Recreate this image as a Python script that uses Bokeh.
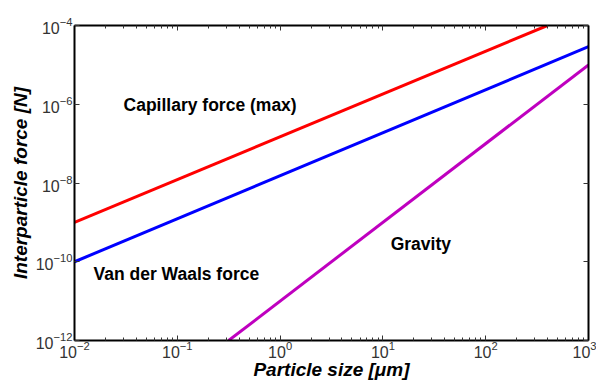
from bokeh.plotting import figure
from bokeh.models import FixedTicker, LogAxis, Label, Range1d, CustomJSTickFormatter
from bokeh.embed import file_html
from bokeh.resources import INLINE

# ---- data ----
size_capillary = [0.01, 398.0]
force_capillary = [1e-9, 1e-4]
size_vdw = [0.01, 1000.0]
force_vdw = [1e-10, 2.9e-5]
size_gravity = [0.316, 1000.0]
force_gravity = [1e-12, 1e-5]

x_major = [1e-2, 1e-1, 1e0, 1e1, 1e2, 1e3]
y_major = [1e-12, 1e-10, 1e-8, 1e-6, 1e-4]
x_minor = [m * 10.0 ** e for e in range(-2, 3) for m in range(2, 10)]

label_texts = ["Capillary force (max)", "Van der Waals force", "Gravity"]
label_x = [0.030, 0.0153, 11.9]
label_y = [9.3e-7, 4.8e-11, 2.8e-10]

FONT = "Liberation Sans"

p = figure(width=596, height=383, x_axis_type="log", y_axis_type="log",
           x_range=Range1d(1e-2, 1e3), y_range=Range1d(1e-12, 1e-4),
           output_backend="svg", toolbar_location=None,
           min_border_left=74, min_border_right=8, min_border_top=25, min_border_bottom=43)
p.grid.visible = False
p.outline_line_color = None
p.background_fill_color = "white"
p.border_fill_color = "white"

p.line(size_capillary, force_capillary, line_color="#ff0000", line_width=3)
p.line(size_vdw, force_vdw, line_color="#0000ff", line_width=3)
p.line(size_gravity, force_gravity, line_color="#bf00bf", line_width=3)

for t, x, y in zip(label_texts, label_x, label_y):
    p.add_layout(Label(x=x, y=y, text=t, text_font=FONT, text_font_style="bold",
                       text_font_size="17.5px", text_color="black",
                       text_align="left", text_baseline="middle"))


def style_axis(ax):
    ax.axis_line_color = "black"
    ax.axis_line_width = 2
    ax.major_tick_in = 5
    ax.major_tick_out = 0
    ax.minor_tick_in = 3
    ax.minor_tick_out = 0
    ax.major_tick_line_color = "#333333"
    ax.minor_tick_line_color = "#333333"
    ax.major_label_text_font = FONT
    ax.major_label_text_font_size = "16px"
    ax.major_label_text_color = "#333333"


xa = p.xaxis[0]
xa.ticker = FixedTicker(ticks=x_major, minor_ticks=x_minor)
style_axis(xa)
xa.major_label_standoff = 0
xa.axis_label = "Particle size [\u03bcm]"
xa.axis_label_text_font = FONT
xa.axis_label_text_font_style = "bold italic"
xa.axis_label_text_font_size = "19px"
xa.axis_label_text_color = "black"
xa.axis_label_standoff = -2

ya = p.yaxis[0]
ya.ticker = FixedTicker(ticks=y_major, minor_ticks=[])
style_axis(ya)
ya.major_label_standoff = 2
ya.axis_label = "Interparticle force [N]"
ya.axis_label_text_font = FONT
ya.axis_label_text_font_style = "bold italic"
ya.axis_label_text_font_size = "19px"
ya.axis_label_text_color = "black"
ya.axis_label_standoff = 2

blank = CustomJSTickFormatter(code="return ''")

top = LogAxis(ticker=FixedTicker(ticks=x_major, minor_ticks=x_minor), formatter=blank)
style_axis(top)
top.major_label_standoff = 0
p.add_layout(top, "above")

right = LogAxis(ticker=FixedTicker(ticks=y_major, minor_ticks=[]), formatter=blank)
style_axis(right)
right.major_label_standoff = 0
p.add_layout(right, "right")

open("out.html", "w").write(file_html(p, INLINE))
